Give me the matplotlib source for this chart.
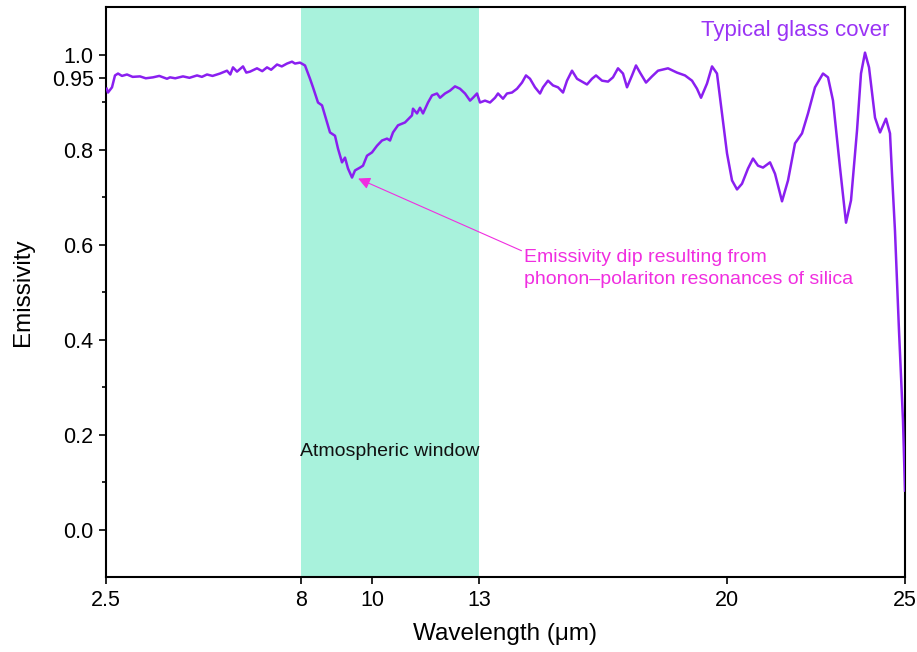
import matplotlib.pyplot as plt
from matplotlib.ticker import FixedLocator

plt.rcParams['font.family'] = ['Liberation Sans', 'DejaVu Sans']

# Measured emissivity of a typical glass cover
wavelength = [
    2.52, 2.556, 2.669, 2.753, 2.838, 2.95, 3.091, 3.25, 3.457, 3.62, 3.824, 4.0,
    4.218, 4.302, 4.45, 4.668, 4.85, 5.063, 5.2, 5.344, 5.5, 5.710, 5.907, 6.0,
    6.076, 6.189, 6.358, 6.45, 6.555, 6.752, 6.9, 7.034, 7.15, 7.316, 7.45, 7.597,
    7.738, 7.822, 7.963,
    8.104, 8.245, 8.329, 8.470, 8.583, 8.724, 8.808, 8.949, 9.033, 9.146, 9.230,
    9.315, 9.428, 9.512, 9.653, 9.737, 9.850, 9.991, 10.132, 10.272, 10.413,
    10.498, 10.582, 10.723, 10.920, 11.117, 11.145, 11.258, 11.342, 11.427,
    11.568, 11.681, 11.821, 11.906, 12.047, 12.187, 12.328, 12.469, 12.610,
    12.751, 12.835, 12.948, 13.032, 13.173, 13.314, 13.455,
    13.539, 13.680, 13.792, 13.933, 14.074, 14.215, 14.327, 14.440, 14.581,
    14.722, 14.806, 14.947, 15.088, 15.229, 15.370, 15.482, 15.623, 15.764,
    15.904, 16.045, 16.186, 16.299, 16.468, 16.637, 16.777, 16.918, 17.059,
    17.172, 17.313, 17.425, 17.538, 17.707, 17.876, 18.045, 18.326, 18.579,
    18.805, 19.002, 19.143, 19.256,
    19.425, 19.566, 19.706, 19.847, 19.988, 20.129, 20.270, 20.410, 20.579,
    20.720, 20.861, 21.002, 21.199, 21.340, 21.537, 21.706, 21.903, 22.100,
    22.269, 22.466, 22.691, 22.832, 22.973, 23.170, 23.339, 23.480, 23.649,
    23.761, 23.874, 23.987, 24.156, 24.297, 24.465, 24.578, 24.634, 24.718,
    24.831, 24.944, 25.0,
]
emissivity = [
    0.928, 0.920, 0.931, 0.956, 0.960, 0.955, 0.958, 0.953, 0.954, 0.950, 0.952, 0.955,
    0.949, 0.952, 0.950, 0.954, 0.951, 0.956, 0.953, 0.958, 0.955, 0.960, 0.966, 0.958,
    0.973, 0.964, 0.975, 0.962, 0.964, 0.971, 0.965, 0.973, 0.968, 0.979, 0.975, 0.981,
    0.985, 0.981, 0.983,
    0.977, 0.949, 0.931, 0.899, 0.893, 0.857, 0.836, 0.829, 0.802, 0.773, 0.783,
    0.760, 0.741, 0.756, 0.762, 0.766, 0.787, 0.794, 0.808, 0.819, 0.823,
    0.819, 0.836, 0.851, 0.857, 0.872, 0.886, 0.876, 0.888, 0.876,
    0.899, 0.914, 0.918, 0.909, 0.918, 0.924, 0.933, 0.928, 0.918,
    0.903, 0.909, 0.918, 0.899, 0.903, 0.899, 0.909,
    0.918, 0.907, 0.918, 0.920, 0.928, 0.941, 0.956, 0.949, 0.931,
    0.918, 0.931, 0.945, 0.935, 0.931, 0.920, 0.945, 0.966, 0.949,
    0.943, 0.937, 0.949, 0.956, 0.945, 0.943, 0.952, 0.971, 0.960,
    0.931, 0.956, 0.977, 0.962, 0.941, 0.954, 0.966, 0.971, 0.962,
    0.956, 0.945, 0.928, 0.909,
    0.939, 0.975, 0.960, 0.876, 0.792, 0.735, 0.716, 0.728, 0.760,
    0.781, 0.766, 0.762, 0.773, 0.749, 0.691, 0.735, 0.813, 0.834,
    0.876, 0.931, 0.960, 0.952, 0.903, 0.762, 0.646, 0.693, 0.840,
    0.960, 1.004, 0.973, 0.867, 0.836, 0.865, 0.834, 0.749, 0.629,
    0.419, 0.229, 0.082,
]

window_start, window_end = 8, 13
dip_wavelength, dip_emissivity = 9.6, 0.739

x_ticks = [2.5, 8, 10, 13, 20, 25]
x_tick_labels = ['2.5', '8', '10', '13', '20', '25']
y_ticks = [0.0, 0.2, 0.4, 0.6, 0.8, 0.95, 1.0]
y_tick_labels = ['0.0', '0.2', '0.4', '0.6', '0.8', '0.95', '1.0']
y_minor = [0.1, 0.3, 0.5, 0.7, 0.9]

line_color = '#8a1ff0'
note_color = '#f02ee0'

fig = plt.figure(figsize=(9.17, 6.52), dpi=100)
ax = fig.add_axes([0.1156, 0.1150, 0.8713, 0.8742])

ax.axvspan(window_start, window_end, color='#a8f2dc', lw=0, zorder=0)
ax.plot(wavelength, emissivity, color=line_color, lw=1.8, zorder=3,
        solid_joinstyle='round')

ax.set_xlim(2.5, 25)
ax.set_ylim(-0.1, 1.1)
ax.set_xticks(x_ticks)
ax.set_xticklabels(x_tick_labels)
ax.set_yticks(y_ticks)
ax.set_yticklabels(y_tick_labels)
ax.yaxis.set_minor_locator(FixedLocator(y_minor))

ax.tick_params(axis='both', which='major', direction='out', length=5,
               width=1.2, labelsize=15.5, pad=4)
ax.tick_params(axis='y', which='minor', direction='out', length=3, width=1.2)
for side in ax.spines.values():
    side.set_linewidth(1.5)

ax.set_xlabel('Wavelength (\u03bcm)', fontsize=17.5, labelpad=9)
ax.set_ylabel('Emissivity', fontsize=17.5, labelpad=13)

ax.text(24.55, 1.05, 'Typical glass cover', color='#9a33f5', fontsize=16,
        ha='right', va='center')
ax.text(10.5, 0.164, 'Atmospheric window', fontsize=14, ha='center', va='center',
        color='#111111')

ax.annotate('', xy=(dip_wavelength, dip_emissivity), xytext=(14.2, 0.587),
            arrowprops=dict(arrowstyle='-|>', color=note_color, lw=0.8,
                            mutation_scale=18, shrinkA=0, shrinkB=0))
ax.text(14.27, 0.549, 'Emissivity dip resulting from\nphonon\u2013polariton resonances of silica',
        color=note_color, fontsize=14, ha='left', va='center', linespacing=1.35)

fig.savefig('out.png', dpi=100)
